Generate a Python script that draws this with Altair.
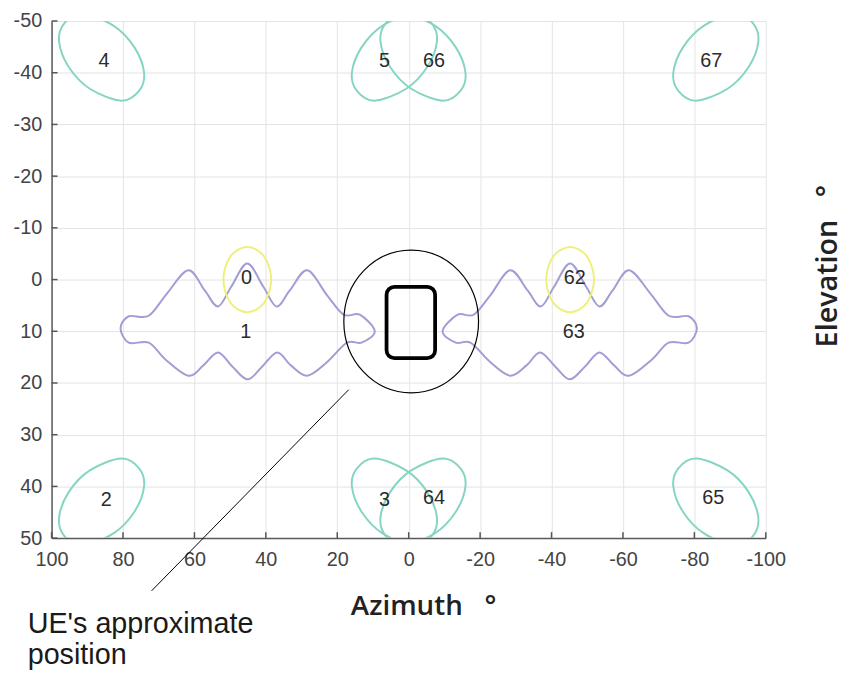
import altair as alt
import pandas as pd

# ---- axes ----
X_TICKS = [100, 80, 60, 40, 20, 0, -20, -40, -60, -80, -100]
Y_TICKS = [-50, -40, -30, -20, -10, 0, 10, 20, 30, 40, 50]

# ---- wide beams (teal), outline offsets ----
TEMPLATE_P_DX = [11.9, 9.2, 3.3, -5.5, -10.5, -11.9, -9.2, -3.3, 5.5, 10.5]
TEMPLATE_P_DY = [-3.0, 1.9, 6.1, 8.4, 6.5, 3.0, -1.9, -6.1, -8.4, -6.5]
TEMPLATE_Q_DX = [11.9, 9.2, 3.3, -5.5, -10.5, -11.9, -9.2, -3.3, 5.5, 10.5]
TEMPLATE_Q_DY = [3.0, -1.9, -6.1, -8.4, -6.5, -3.0, 1.9, 6.1, 8.4, 6.5]
WIDE_BEAMS = ["4", "66", "3", "65", "67", "5", "2", "64"]
WIDE_CX = [86, -4, 4, -86, -86, 4, 86, -4]
WIDE_CY = [-43, -43, 43, 43, -43, -43, 43, 43]
WIDE_TEMPLATE = ["P", "P", "P", "P", "Q", "Q", "Q", "Q"]

# ---- narrow beams (yellow) ----
NARROW_BEAMS = ["0", "62"]
NARROW_CX = [45.2, -45.2]
NARROW_CY = [0.0, 0.0]
NARROW_DX = [6.7, 4.7, 0.0, -4.7, -6.7, -4.7, 0.0, 4.7]
NARROW_DY = [0.0, 4.5, 6.3, 4.5, 0.0, -4.5, -6.3, -4.5]

# ---- combined beams (purple) ----
LEFT_X = [80.7, 78.4, 72.8, 67.7, 61.7, 57.1, 53.4, 49.7, 45.2, 40.7, 37.0, 33.3, 28.4,
          22.9, 18.2, 13.7, 9.5, 13.2, 17.3, 22.9, 28.4, 33.0, 36.8, 41.0, 45.1, 49.4,
          53.4, 57.5, 61.7, 68.2, 72.8, 78.4]
LEFT_Y = [9.4, 7.1, 7.0, 2.7, -1.8, 2.1, 5.2, 1.4, -3.1, 1.4, 5.2, 2.1, -1.8,
          3.0, 6.8, 6.8, 10.0, 12.2, 12.2, 16.0, 18.6, 16.6, 14.1, 16.8, 19.3, 16.8,
          14.1, 16.6, 18.6, 15.4, 12.2, 12.2]
RIGHT_X = [-80.7, -78.4, -72.8, -67.7, -61.7, -57.1, -53.4, -49.7, -45.2, -40.7, -37.0, -33.3, -28.4,
           -22.9, -18.2, -13.7, -9.5, -13.2, -17.3, -22.9, -28.4, -33.0, -36.8, -41.0, -45.1, -49.4,
           -53.4, -57.5, -61.7, -68.2, -72.8, -78.4]
RIGHT_Y = [9.4, 7.1, 7.0, 2.7, -1.8, 2.1, 5.2, 1.4, -3.1, 1.4, 5.2, 2.1, -1.8,
           3.0, 6.8, 6.8, 10.0, 12.2, 12.2, 16.0, 18.6, 16.6, 14.1, 16.8, 19.3, 16.8,
           14.1, 16.6, 18.6, 15.4, 12.2, 12.2]

# ---- beam labels ----
LABELS = ["4", "5", "66", "67", "0", "1", "62", "63", "2", "3", "64", "65"]
LABEL_X = [85.3, 6.8, -7.1, -84.7, 45.4, 45.6, -46.5, -46.2, 84.7, 6.8, -7.1, -85.3]
LABEL_Y = [-42.3, -42.3, -42.3, -42.3, -0.2, 10.2, -0.2, 10.2, 42.6, 42.6, 42.3, 42.3]

# ---- UE position markers ----
UE_CIRCLE_X = [-0.7]
UE_CIRCLE_Y = [8.1]
UE_BOX_X = [6.2]
UE_BOX_X2 = [-7.4]
UE_BOX_Y = [1.4]
UE_BOX_Y2 = [15.2]
POINTER_X = [72.0]
POINTER_Y = [60.2]
POINTER_X2 = [16.8]
POINTER_Y2 = [21.3]
NOTE_TEXT = ["UE's approximate\nposition"]
NOTE_X = [106.7]
NOTE_Y = [68.3]

# ---------------- build tables ----------------
rows = []
for b, cx, cy, t in zip(WIDE_BEAMS, WIDE_CX, WIDE_CY, WIDE_TEMPLATE):
    dxs = TEMPLATE_P_DX if t == "P" else TEMPLATE_Q_DX
    dys = TEMPLATE_P_DY if t == "P" else TEMPLATE_Q_DY
    for i, (dx, dy) in enumerate(zip(dxs, dys)):
        rows.append({"beam": b, "i": i, "x": cx + dx, "y": cy + dy})
wide_df = pd.DataFrame(rows)

rows = []
for b, cx, cy in zip(NARROW_BEAMS, NARROW_CX, NARROW_CY):
    for i, (dx, dy) in enumerate(zip(NARROW_DX, NARROW_DY)):
        rows.append({"beam": b, "i": i, "x": cx + dx, "y": cy + dy})
narrow_df = pd.DataFrame(rows)

rows = []
for i, (x, y) in enumerate(zip(LEFT_X, LEFT_Y)):
    rows.append({"beam": "1", "i": i, "x": x, "y": y})
for i, (x, y) in enumerate(zip(RIGHT_X, RIGHT_Y)):
    rows.append({"beam": "63", "i": i, "x": x, "y": y})
combo_df = pd.DataFrame(rows)

labels_df = pd.DataFrame({"label": LABELS, "x": LABEL_X, "y": LABEL_Y})
circle_df = pd.DataFrame({"x": UE_CIRCLE_X, "y": UE_CIRCLE_Y})
box_df = pd.DataFrame({"x": UE_BOX_X, "x2": UE_BOX_X2, "y": UE_BOX_Y, "y2": UE_BOX_Y2})
pointer_df = pd.DataFrame({"x": POINTER_X, "y": POINTER_Y, "x2": POINTER_X2, "y2": POINTER_Y2})
note_df = pd.DataFrame({"text": NOTE_TEXT, "x": NOTE_X, "y": NOTE_Y})
xt_df = pd.DataFrame({"t": X_TICKS})
yt_df = pd.DataFrame({"t": Y_TICKS})

# ---------------- scales & axes ----------------
x_scale = alt.Scale(domain=[-100, 100], reverse=True, nice=False, zero=False)
y_scale = alt.Scale(domain=[-50, 50], reverse=True, nice=False, zero=False)

LABEL_FONT = "Liberation Sans"
TITLE_FONT = "Open Sans"
NBSP = "\u00a0"

x_axis = alt.Axis(
    values=X_TICKS, grid=True, ticks=False, labelPadding=12,
    labelExpr="'' + datum.value",
    title="Azimuth" + NBSP * 3 + "°", titleX=375, titleY=77, titleBaseline="alphabetic",
    titleAlign="center", titleAnchor="start", titleFontSize=28,
)
y_axis = alt.Axis(
    values=Y_TICKS, grid=True, ticks=False, labelPadding=10,
    labelExpr="'' + datum.value",
    title="Elevation" + NBSP * 3 + "°", titleX=783, titleY=247, titleAngle=270,
    titleBaseline="middle", titleAlign="center", titleAnchor="start", titleFontSize=29,
)


def X(field):
    return alt.X(field, type="quantitative", scale=x_scale, axis=x_axis)


def Y(field):
    return alt.Y(field, type="quantitative", scale=y_scale, axis=y_axis)


wide = alt.Chart(wide_df).mark_line(
    interpolate="cardinal-closed", clip=True, color="#86d5c4", strokeWidth=2
).encode(x=X("x"), y=Y("y"), detail="beam:N", order="i:Q")

combo = alt.Chart(combo_df).mark_line(
    interpolate="cardinal-closed", clip=True, color="#a09ed4", strokeWidth=2
).encode(x=X("x"), y=Y("y"), detail="beam:N", order="i:Q")

narrow = alt.Chart(narrow_df).mark_line(
    interpolate="cardinal-closed", clip=True, color="#eef07c", strokeWidth=2
).encode(x=X("x"), y=Y("y"), detail="beam:N", order="i:Q")

labels = alt.Chart(labels_df).mark_text(
    font=LABEL_FONT, fontSize=20, color="#2b2b2b"
).encode(x=X("x"), y=Y("y"), text="label:N")

circle = alt.Chart(circle_df).mark_point(
    shape="M-1,0A1,1.06,0,1,1,1,0A1,1.06,0,1,1,-1,0Z",
    size=18496, filled=False, color="black", strokeWidth=1.2, opacity=1
).encode(x=X("x"), y=Y("y"))

box = alt.Chart(box_df).mark_rect(
    fill="transparent", stroke="black", strokeWidth=3.8, cornerRadius=8
).encode(x=X("x"), x2="x2", y=Y("y"), y2="y2")

pointer = alt.Chart(pointer_df).mark_rule(color="black", strokeWidth=1).encode(
    x=X("x"), y=Y("y"), x2="x2", y2="y2"
)

note = alt.Chart(note_df).mark_text(
    align="left", baseline="alphabetic", lineBreak="\n", lineHeight=32,
    font=LABEL_FONT, fontSize=29, color="#1a1a1a"
).encode(x=X("x"), y=Y("y"), text="text:N")

xticks = alt.Chart(xt_df).mark_tick(
    orient="vertical", size=6, thickness=1.5, color="#555555", yOffset=-3, opacity=1
).encode(x=X("t"), y=alt.YDatum(50, scale=y_scale, axis=y_axis))

yticks = alt.Chart(yt_df).mark_tick(
    orient="horizontal", size=6, thickness=1.5, color="#555555", xOffset=3, opacity=1
).encode(y=Y("t"), x=alt.XDatum(100, scale=x_scale, axis=x_axis))

chart = alt.layer(
    wide, combo, narrow, labels, circle, box, pointer, note, xticks, yticks
).properties(
    width=721, height=522,
    autosize=alt.AutoSizeParams(type="none"),
    padding={"left": 44, "top": 10, "right": 85, "bottom": 130},
    background="white",
).configure_view(stroke=None).configure_axis(
    gridColor="#e4e4e4", gridWidth=1,
    domainColor="#5a5a5a", domainWidth=1.5,
    labelFont=LABEL_FONT, labelFontSize=20, labelColor="#444444",
    labelOverlap=False, labelFlush=False,
    titleFont=TITLE_FONT, titleFontWeight=600, titleColor="#222222",
)

chart.save("out.html", embed_options={"renderer": "svg", "actions": False})
